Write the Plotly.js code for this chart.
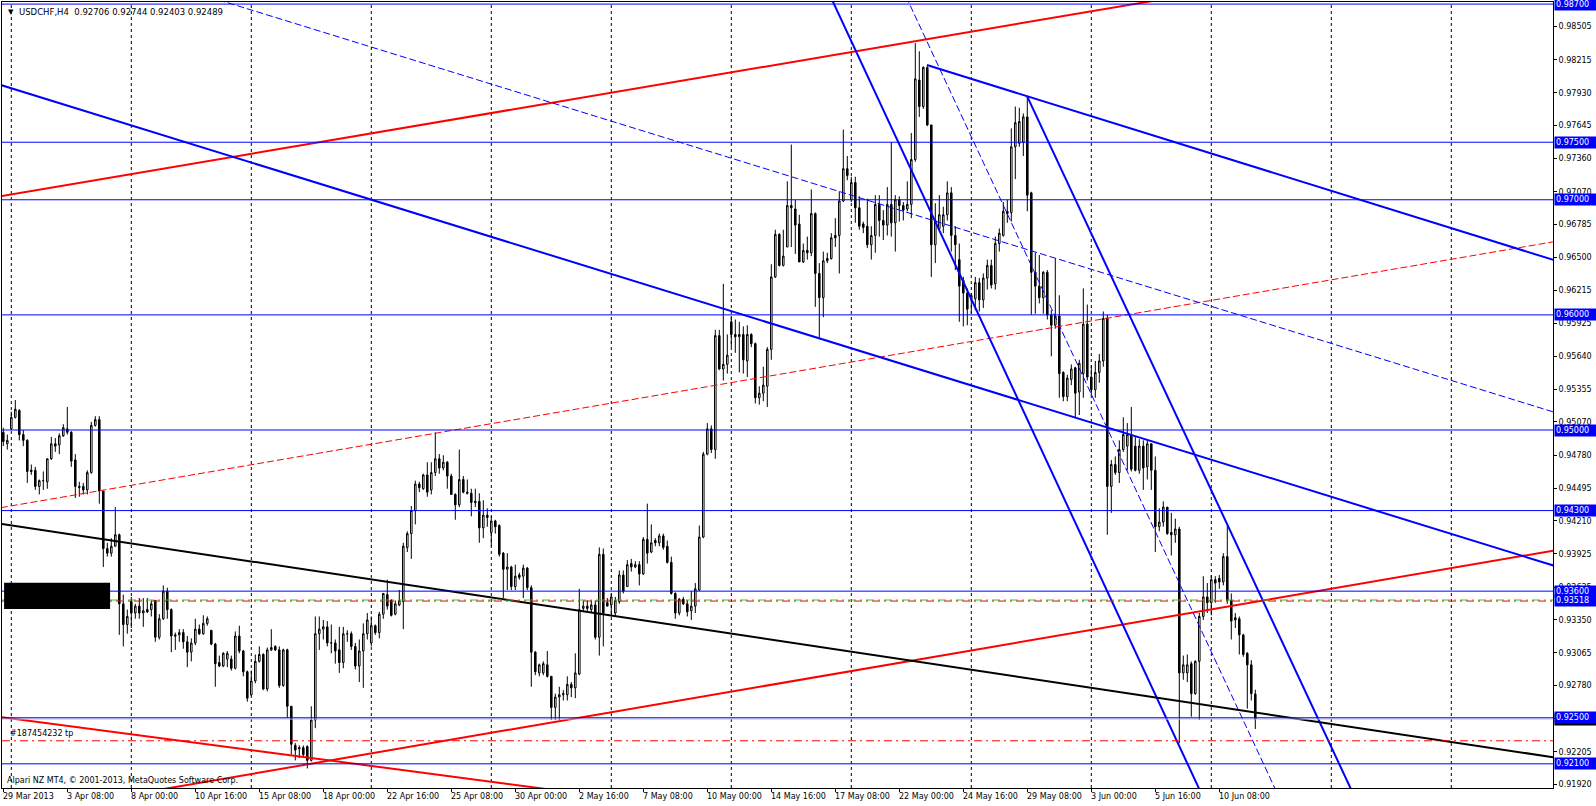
<!DOCTYPE html>
<html><head><meta charset="utf-8">
<script src="https://cdn.plot.ly/plotly-3.0.1.min.js"></script>
<style>html,body{margin:0;padding:0;background:#fff;overflow:hidden}#chart{width:1596px;height:806px}</style>
</head><body><div id="chart"></div>
<script>
// ---------- DATA (USDCHF H4, bar index 0 = 1 Apr 2013 00:00) ----------
const firstBar = -2;
const barOpen = [
0.9498,0.9488,0.9501,0.9511,0.9517,0.9496,0.9491,0.9465,0.9465,0.9451,
0.9456,0.9455,0.9475,0.9488,0.9487,0.9495,0.9501,0.9498,0.9474,0.9451,
0.9451,0.9448,0.9463,0.9504,0.9509,0.9447,0.9397,0.9393,0.9399,0.9409,
0.9349,0.9331,0.9351,0.9341,0.9347,0.9341,0.9344,0.9344,0.9352,0.9320,
0.9336,0.9360,0.9344,0.9322,0.9322,0.9324,0.9316,0.9307,0.9315,0.9327,
0.9323,0.9332,0.9326,0.9314,0.9298,0.9295,0.9301,0.9301,0.9293,0.9321,
0.9308,0.9290,0.9270,0.9282,0.9299,0.9305,0.9275,0.9309,0.9312,0.9309,
0.9278,0.9309,0.9260,0.9226,0.9223,0.9224,0.9225,0.9213,0.9248,0.9323,
0.9327,0.9329,0.9315,0.9315,0.9309,0.9298,0.9323,0.9323,0.9312,0.9295,
0.9308,0.9323,0.9315,0.9330,0.9324,0.9340,0.9357,0.9352,0.9340,0.9348,
0.9351,0.9398,0.9410,0.9430,0.9453,0.9449,0.9461,0.9448,0.9463,0.9475,
0.9467,0.9472,0.9460,0.9444,0.9435,0.9457,0.9446,0.9445,0.9438,0.9438,
0.9415,0.9426,0.9411,0.9421,0.9417,0.9393,0.9379,0.9381,0.9364,0.9374,
0.9373,0.9380,0.9363,0.9307,0.9289,0.9289,0.9296,0.9286,0.9259,0.9268,
0.9270,0.9270,0.9279,0.9276,0.9288,0.9345,0.9347,0.9344,0.9348,0.9320,
0.9392,0.9350,0.9348,0.9341,0.9351,0.9374,0.9364,0.9384,0.9381,0.9383,
0.9375,0.9405,0.9394,0.9404,0.9402,0.9408,0.9399,0.9385,0.9358,0.9341,
0.9353,0.9349,0.9343,0.9347,0.9361,0.9407,0.9479,0.9501,0.9483,0.9582,
0.9553,0.9557,0.9594,0.9583,0.9581,0.9583,0.9560,0.9583,0.9575,0.9528,
0.9532,0.9538,0.9570,0.9633,0.9670,0.9643,0.9659,0.9695,0.9692,0.9679,
0.9646,0.9656,0.9654,0.9688,0.9636,0.9615,0.9647,0.9649,0.9669,0.9669,
0.9699,0.9727,0.9700,0.9715,0.9693,0.9679,0.9677,0.9661,0.9669,0.9696,
0.9682,0.9678,0.9696,0.9680,0.9700,0.9695,0.9692,0.9696,0.9735,0.9804,
0.9781,0.9815,0.9765,0.9661,0.9675,0.9677,0.9687,0.9706,0.9669,0.9648,
0.9630,0.9619,0.9614,0.9614,0.9628,0.9613,0.9632,0.9643,0.9627,0.9662,
0.9669,0.9690,0.9689,0.9746,0.9749,0.9750,0.9772,0.9706,0.9637,0.9625,
0.9615,0.9637,0.9600,0.9591,0.9599,0.9550,0.9529,0.9544,0.9554,0.9533,
0.9549,0.9592,0.9546,0.9535,0.9550,0.9560,0.9597,0.9451,0.9470,0.9463,
0.9483,0.9486,0.9496,0.9486,0.9465,0.9486,0.9468,0.9488,0.9465,0.9416,
0.9420,0.9433,0.9411,0.9409,0.9414,0.9289,0.9289,0.9297,0.9271,0.9299,
0.9338,0.9355,0.9350,0.9370,0.9371,0.9368,0.9390,0.9352,0.9337,0.9336,
0.9322,0.9306,0.9296,0.92706];
const barHigh = [
0.9502,0.9496,0.9516,0.9526,0.9518,0.9500,0.9492,0.9470,0.9468,0.9457,
0.9464,0.9475,0.9494,0.9493,0.9497,0.9505,0.9520,0.9499,0.9479,0.9455,
0.9454,0.9465,0.9507,0.9512,0.9512,0.9447,0.9402,0.9406,0.9433,0.9410,
0.9357,0.9344,0.9355,0.9349,0.9354,0.9354,0.9354,0.9352,0.9352,0.9340,
0.9365,0.9363,0.9345,0.9324,0.9327,0.9327,0.9321,0.9319,0.9336,0.9331,
0.9339,0.9338,0.9326,0.9315,0.9304,0.9307,0.9308,0.9304,0.9325,0.9330,
0.9309,0.9291,0.9291,0.9305,0.9312,0.9306,0.9311,0.9327,0.9313,0.9312,
0.9310,0.9310,0.9260,0.9228,0.9226,0.9226,0.9226,0.9260,0.9338,0.9338,
0.9335,0.9334,0.9331,0.9318,0.9329,0.9329,0.9326,0.9325,0.9315,0.9318,
0.9332,0.9341,0.9338,0.9331,0.9342,0.9358,0.9370,0.9353,0.9352,0.9361,
0.9402,0.9412,0.9434,0.9456,0.9455,0.9462,0.9472,0.9472,0.9498,0.9479,
0.9478,0.9473,0.9462,0.9445,0.9483,0.9460,0.9457,0.9449,0.9449,0.9445,
0.9439,0.9432,0.9425,0.9422,0.9418,0.9394,0.9393,0.9382,0.9383,0.9376,
0.9383,0.9381,0.9365,0.9308,0.9297,0.9299,0.9308,0.9286,0.9271,0.9277,
0.9274,0.9286,0.9281,0.9306,0.9362,0.9352,0.9352,0.9352,0.9352,0.9398,
0.9397,0.9354,0.9358,0.9355,0.9378,0.9378,0.9387,0.9388,0.9386,0.9386,
0.9407,0.9436,0.9418,0.9406,0.9410,0.9410,0.9404,0.9390,0.9359,0.9354,
0.9355,0.9352,0.9360,0.9367,0.9417,0.9481,0.9506,0.9504,0.9587,0.9587,
0.9627,0.9583,0.9599,0.9596,0.9594,0.9590,0.9591,0.9584,0.9576,0.9538,
0.9555,0.9572,0.9644,0.9674,0.9671,0.9674,0.9716,0.9748,0.9700,0.9687,
0.9662,0.9668,0.9709,0.9689,0.9645,0.9655,0.9654,0.9671,0.9684,0.9707,
0.9761,0.9738,0.9720,0.9720,0.9703,0.9681,0.9701,0.9677,0.9704,0.9704,
0.9691,0.9711,0.9750,0.9704,0.9703,0.9698,0.9716,0.9758,0.9836,0.9829,
0.9816,0.9816,0.9765,0.9697,0.9704,0.9694,0.9716,0.9711,0.9677,0.9662,
0.9633,0.9623,0.9619,0.9633,0.9632,0.9636,0.9648,0.9648,0.9668,0.9675,
0.9698,0.9700,0.9762,0.9781,0.9780,0.9775,0.9790,0.9707,0.9654,0.9652,
0.9638,0.9639,0.9604,0.9649,0.9617,0.9551,0.9548,0.9557,0.9555,0.9561,
0.9623,0.9609,0.9556,0.9560,0.9566,0.9603,0.9600,0.9474,0.9477,0.9491,
0.9511,0.9506,0.9520,0.9494,0.9492,0.9491,0.9491,0.9488,0.9477,0.9432,
0.9438,0.9433,0.9428,0.9423,0.9416,0.9304,0.9305,0.9299,0.9300,0.9341,
0.9373,0.9367,0.9374,0.9373,0.9374,0.9393,0.9417,0.9358,0.9341,0.9338,
0.9323,0.9307,0.9300,0.92744];
const barLow = [
0.9486,0.9483,0.9500,0.9510,0.9491,0.9486,0.9454,0.9461,0.9448,0.9444,
0.9448,0.9449,0.9474,0.9481,0.9479,0.9494,0.9496,0.9468,0.9441,0.9442,
0.9444,0.9444,0.9462,0.9503,0.9436,0.9381,0.9390,0.9390,0.9399,0.9322,
0.9312,0.9323,0.9328,0.9336,0.9336,0.9329,0.9341,0.9338,0.9316,0.9318,
0.9335,0.9336,0.9307,0.9309,0.9316,0.9310,0.9294,0.9299,0.9313,0.9322,
0.9322,0.9330,0.9313,0.9277,0.9294,0.9294,0.9294,0.9291,0.9292,0.9306,
0.9286,0.9264,0.9269,0.9280,0.9298,0.9274,0.9273,0.9308,0.9308,0.9276,
0.9277,0.9250,0.9218,0.9213,0.9215,0.9216,0.9206,0.9212,0.9241,0.9309,
0.9318,0.9312,0.9306,0.9297,0.9289,0.9293,0.9316,0.9309,0.9292,0.9281,
0.9276,0.9318,0.9312,0.9322,0.9319,0.9336,0.9344,0.9338,0.9339,0.9347,
0.9327,0.9394,0.9388,0.9418,0.9446,0.9448,0.9442,0.9444,0.9460,0.9462,
0.9465,0.9449,0.9444,0.9422,0.9433,0.9445,0.9444,0.9425,0.9433,0.9402,
0.9406,0.9416,0.9399,0.9410,0.9390,0.9354,0.9361,0.9361,0.9361,0.9370,
0.9354,0.9361,0.9277,0.9287,0.9286,0.9287,0.9285,0.9248,0.9248,0.9248,
0.9265,0.9265,0.9268,0.9267,0.9287,0.9342,0.9342,0.9341,0.9318,0.9304,
0.9312,0.9347,0.9338,0.9338,0.9349,0.9358,0.9364,0.9377,0.9380,0.9365,
0.9374,0.9384,0.9393,0.9399,0.9399,0.9396,0.9384,0.9357,0.9336,0.9339,
0.9348,0.9338,0.9335,0.9341,0.9360,0.9406,0.9478,0.9480,0.9475,0.9552,
0.9543,0.9549,0.9572,0.9567,0.9550,0.9549,0.9546,0.9572,0.9523,0.9522,
0.9525,0.9520,0.9561,0.9632,0.9642,0.9642,0.9659,0.9659,0.9653,0.9646,
0.9645,0.9648,0.9651,0.9607,0.9580,0.9598,0.9645,0.9648,0.9659,0.9636,
0.9698,0.9717,0.9698,0.9680,0.9674,0.9671,0.9658,0.9648,0.9654,0.9668,
0.9665,0.9669,0.9668,0.9655,0.9681,0.9682,0.9690,0.9684,0.9733,0.9772,
0.9779,0.9764,0.9633,0.9645,0.9674,0.9671,0.9682,0.9655,0.9639,0.9594,
0.9590,0.9591,0.9601,0.9604,0.9603,0.9606,0.9622,0.9623,0.9622,0.9655,
0.9668,0.9680,0.9681,0.9718,0.9746,0.9738,0.9690,0.9600,0.9601,0.9610,
0.9601,0.9596,0.9564,0.9588,0.9528,0.9525,0.9525,0.9539,0.9511,0.9513,
0.9528,0.9543,0.9530,0.9528,0.9541,0.9555,0.9409,0.9428,0.9461,0.9454,
0.9481,0.9465,0.9464,0.9464,0.9462,0.9448,0.9457,0.9448,0.9394,0.9412,
0.9416,0.9409,0.9391,0.9402,0.9228,0.9283,0.9281,0.9251,0.9270,0.9248,
0.9335,0.9341,0.9339,0.9350,0.9362,0.9365,0.9349,0.9318,0.9328,0.9305,
0.9303,0.9258,0.9265,0.92403];
const barClose = [
0.9490,0.9491,0.9511,0.9518,0.9496,0.9491,0.9464,0.9464,0.9451,0.9456,
0.9456,0.9475,0.9488,0.9486,0.9495,0.9502,0.9498,0.9473,0.9451,0.9450,
0.9448,0.9463,0.9504,0.9509,0.9447,0.9397,0.9393,0.9399,0.9409,0.9349,
0.9331,0.9338,0.9341,0.9347,0.9341,0.9343,0.9342,0.9349,0.9320,0.9336,
0.9360,0.9344,0.9321,0.9321,0.9324,0.9316,0.9307,0.9315,0.9327,0.9323,
0.9332,0.9336,0.9314,0.9297,0.9295,0.9306,0.9306,0.9293,0.9321,0.9308,
0.9290,0.9267,0.9282,0.9299,0.9305,0.9275,0.9309,0.9311,0.9309,0.9278,
0.9309,0.9260,0.9227,0.9222,0.9224,0.9218,0.9213,0.9248,0.9323,0.9327,
0.9329,0.9315,0.9315,0.9308,0.9298,0.9323,0.9323,0.9312,0.9295,0.9308,
0.9323,0.9335,0.9330,0.9324,0.9340,0.9358,0.9347,0.9339,0.9349,0.9352,
0.9399,0.9410,0.9430,0.9453,0.9450,0.9461,0.9446,0.9463,0.9475,0.9467,
0.9472,0.9460,0.9444,0.9435,0.9457,0.9446,0.9445,0.9437,0.9437,0.9415,
0.9426,0.9424,0.9421,0.9416,0.9392,0.9379,0.9381,0.9364,0.9373,0.9372,
0.9380,0.9363,0.9307,0.9290,0.9296,0.9297,0.9286,0.9259,0.9268,0.9270,
0.9271,0.9279,0.9276,0.9289,0.9344,0.9347,0.9345,0.9348,0.9320,0.9392,
0.9341,0.9347,0.9355,0.9352,0.9374,0.9360,0.9383,0.9381,0.9383,0.9375,
0.9405,0.9393,0.9402,0.9402,0.9408,0.9398,0.9385,0.9358,0.9341,0.9353,
0.9349,0.9342,0.9347,0.9362,0.9407,0.9479,0.9501,0.9483,0.9582,0.9553,
0.9557,0.9565,0.9583,0.9581,0.9583,0.9561,0.9583,0.9575,0.9528,0.9532,
0.9539,0.9570,0.9633,0.9670,0.9643,0.9651,0.9695,0.9693,0.9678,0.9646,
0.9656,0.9654,0.9688,0.9636,0.9615,0.9647,0.9649,0.9667,0.9667,0.9699,
0.9727,0.9721,0.9715,0.9693,0.9677,0.9676,0.9661,0.9669,0.9696,0.9682,
0.9678,0.9696,0.9680,0.9700,0.9695,0.9691,0.9696,0.9735,0.9805,0.9781,
0.9815,0.9765,0.9661,0.9682,0.9687,0.9687,0.9706,0.9669,0.9661,0.9625,
0.9619,0.9605,0.9617,0.9628,0.9613,0.9632,0.9643,0.9626,0.9662,0.9671,
0.9690,0.9688,0.9746,0.9767,0.9768,0.9772,0.9704,0.9637,0.9625,0.9615,
0.9637,0.9600,0.9591,0.9599,0.9549,0.9529,0.9545,0.9553,0.9532,0.9558,
0.9592,0.9546,0.9535,0.9550,0.9560,0.9597,0.9451,0.9470,0.9463,0.9483,
0.9496,0.9496,0.9466,0.9465,0.9486,0.9467,0.9488,0.9465,0.9416,0.9420,
0.9433,0.9410,0.9409,0.9414,0.9289,0.9296,0.9296,0.9271,0.9299,0.9338,
0.9355,0.9350,0.9370,0.9367,0.9368,0.9390,0.9352,0.9334,0.9335,0.9322,
0.9305,0.9296,0.9271,0.92489];

// time-axis labels (bar index where each label sits)
const xLabelBars = [-2,14,30,46,62,78,94,110,126,142,158,174,190,206,222,238,254,270,286,302];
const xLabelText = ['29 Mar 2013','3 Apr 08:00','8 Apr 00:00','10 Apr 16:00','15 Apr 08:00','18 Apr 00:00',
  '22 Apr 16:00','25 Apr 08:00','30 Apr 00:00','2 May 16:00','7 May 08:00','10 May 00:00','14 May 16:00',
  '17 May 08:00','22 May 00:00','24 May 16:00','29 May 08:00','3 Jun 00:00','5 Jun 16:00','10 Jun 08:00'];
const gridBars = [0,30,60,90,120,150,180,210,240,270,300,330,360];
// price scale labels
const yTickValues = [0.98505,0.98215,0.97930,0.97645,0.97360,0.97070,0.96785,0.96500,0.96215,0.95925,
  0.95640,0.95355,0.95070,0.94780,0.94495,0.94210,0.93925,0.93635,0.93350,0.93065,0.92780,0.92495,0.92205,0.91920];
// horizontal levels
const hLevels = [0.98700,0.97500,0.97000,0.96000,0.95000,0.94300,0.93600,0.92500,0.92100];
const orderPrice = 0.93518;
const tpPrice = 0.92300;
const bidPrice = 0.92489;
// trend lines: two anchor points [bar index, price]
const redUpperLine  = [[-2.3,0.97033],[282.2,0.98709]];
const redMedianLine = [[-2.15,0.94328],[385.2,0.96633]];
const redLowerLine  = [[113.4,0.92330],[309.7,0.93500]];
const redBottomLine = [[-1.575,0.92502],[127.4,0.91910]];
const blueMainLine  = [[152.2,0.96332],[309.7,0.94638]];
const blueDashLine  = [[55.4,0.98698],[230.1,0.96824]];
const blueTopRay    = [[228.9,0.98171],[385.2,0.96481]];
const steepLeftLine = [[208.7,0.98475],[268.4,0.94016]];
const steepRightRay = [[254.0,0.97896],[309.7,0.93755]];
const steepDashLine = [[233.4,0.98041],[309.7,0.92350]];
const blackLine     = [[-2.15,0.94183],[309.7,0.92553]];
const boxZone = {bars:[-1.8,24.7], prices:[0.93445,0.93673]};

// ---------- DRAWING ----------
const FONT = 'DejaVu Sans';
const xs = barOpen.map((_, k) => firstBar + k);
const XMIN = -2.325, XMAX = 385.425;
function lineTrace(pts, color, width, dash, fromStart) {
  const a = pts[0], b = pts[1];
  const s = (b[1] - a[1]) / (b[0] - a[0]);
  const x0 = fromStart ? a[0] : XMIN - 20, x1 = XMAX + 20;
  return {type:'scatter', mode:'lines', x:[x0, x1], y:[a[1] + s*(x0 - a[0]), a[1] + s*(x1 - a[0])],
    line:{color:color, width:width, dash:dash || 'solid'}, hoverinfo:'skip', showlegend:false};
}
const traces = [
  {type:'candlestick', x:xs, open:barOpen, high:barHigh, low:barLow, close:barClose,
   increasing:{line:{color:'#000', width:1}, fillcolor:'#ffffff'},
   decreasing:{line:{color:'#000', width:1}, fillcolor:'#000000'},
   whiskerwidth:0, hoverinfo:'skip', showlegend:false},
  lineTrace(redUpperLine, '#ff0000', 2),
  lineTrace(redMedianLine, '#ff0000', 1, '7px,3px'),
  lineTrace(redLowerLine, '#ff0000', 2),
  lineTrace(redBottomLine, '#ff0000', 2),
  lineTrace(blueMainLine, '#0000ff', 2),
  lineTrace(blueDashLine, '#0000ff', 1, '7px,3px'),
  lineTrace(blueTopRay, '#0000ff', 2, null, true),
  lineTrace(steepLeftLine, '#0000ff', 2),
  lineTrace(steepRightRay, '#0000ff', 2, null, true),
  lineTrace(steepDashLine, '#0000ff', 1, '7px,3px'),
  lineTrace(blackLine, '#000000', 2)
];

const shapes = [];
gridBars.forEach(g => shapes.push({type:'line', layer:'below', xref:'x', yref:'paper', x0:g, x1:g, y0:0, y1:1,
  line:{color:'#000', width:1, dash:'3px,3px'}}));
shapes.push({type:'line', xref:'paper', yref:'y', x0:0, x1:1, y0:bidPrice, y1:bidPrice, line:{color:'#c0c0c0', width:1}});
hLevels.forEach(p => shapes.push({type:'line', xref:'paper', yref:'y', x0:0, x1:1, y0:p, y1:p, line:{color:'#0000ff', width:1}}));
shapes.push({type:'line', xref:'paper', yref:'y', x0:0, x1:1, y0:orderPrice+0.00005, y1:orderPrice+0.00005, line:{color:'#22cc22', width:1, dash:'8px,4px,2px,4px'}});
shapes.push({type:'line', xref:'paper', yref:'y', x0:0, x1:1, y0:orderPrice-0.00004, y1:orderPrice-0.00004, line:{color:'#ff0000', width:1, dash:'2px,4px,8px,4px'}});
shapes.push({type:'line', xref:'paper', yref:'y', x0:0, x1:1, y0:tpPrice, y1:tpPrice, line:{color:'#ff0000', width:1, dash:'8px,4px,2px,4px'}});
shapes.push({type:'rect', xref:'x', yref:'y', x0:boxZone.bars[0], x1:boxZone.bars[1], y0:boxZone.prices[0], y1:boxZone.prices[1],
  fillcolor:'#000', line:{width:0}});

const annotations = [];
xLabelBars.forEach((b, k) => annotations.push({x:b, xref:'x', y:0, yref:'paper', yanchor:'top', yshift:-2, xanchor:'left', xshift:-2,
  text:xLabelText[k], showarrow:false, font:{family:FONT, size:8, color:'#000'}}));
function priceBox(p, bg) {
  annotations.push({x:1, xref:'paper', y:p, yref:'y', xanchor:'left', xshift:1, yanchor:'middle', width:40, align:'left',
    text:p.toFixed(5), showarrow:false, bgcolor:bg, borderpad:1, font:{family:FONT, size:8, color:'#fff'}});
}
priceBox(bidPrice, '#000');
hLevels.forEach(p => priceBox(p, '#0000ff'));
priceBox(orderPrice, '#0000ff');
annotations.push({x:0, xref:'paper', y:1, yref:'paper', xanchor:'left', xshift:4, yanchor:'middle', yshift:-10,
  text:'▼', showarrow:false, font:{family:FONT, size:7, color:'#000'}});
annotations.push({x:0, xref:'paper', y:1, yref:'paper', xanchor:'left', xshift:15, yanchor:'middle', yshift:-10,
  text:'USDCHF,H4  ' + [barOpen[barOpen.length-1], barHigh[barHigh.length-1], barLow[barLow.length-1], barClose[barClose.length-1]].map(v=>v.toFixed(5)).join(' '),
  showarrow:false, font:{family:FONT, size:8.5, color:'#000'}});
annotations.push({x:0, xref:'paper', y:tpPrice, yref:'y', xanchor:'left', xshift:6, yanchor:'bottom', yshift:1,
  text:'#187454232 tp', showarrow:false, font:{family:FONT, size:8, color:'#000'}});
annotations.push({x:0, xref:'paper', y:0, yref:'paper', xanchor:'left', xshift:3, yanchor:'bottom', yshift:1,
  text:'Alpari NZ MT4, © 2001-2013, MetaQuotes Software Corp.', showarrow:false, font:{family:FONT, size:8, color:'#000'}});

const layout = {
  width:1596, height:806, margin:{l:2, r:43, t:2, b:18, pad:0},
  paper_bgcolor:'#ffffff', plot_bgcolor:'#ffffff', showlegend:false, boxgap:0.45,
  xaxis:{type:'linear', range:[XMIN, XMAX], showgrid:false, zeroline:false, showline:true, mirror:true,
    linecolor:'#000', linewidth:1, tickmode:'array', tickvals:xLabelBars, ticktext:xLabelBars.map(()=>''),
    ticks:'outside', ticklen:3, tickcolor:'#000', rangeslider:{visible:false}, fixedrange:true},
  yaxis:{range:[0.918899, 0.987182], side:'right', showgrid:false, zeroline:false, showline:true, mirror:true,
    linecolor:'#000', linewidth:1, tickmode:'array', tickvals:yTickValues, ticktext:yTickValues.map(v=>v.toFixed(5)),
    ticks:'outside', ticklen:3, tickcolor:'#000', tickfont:{family:FONT, size:8, color:'#000'}, fixedrange:true},
  shapes:shapes, annotations:annotations
};
Plotly.newPlot('chart', traces, layout, {staticPlot:true, displayModeBar:false});
</script></body></html>
